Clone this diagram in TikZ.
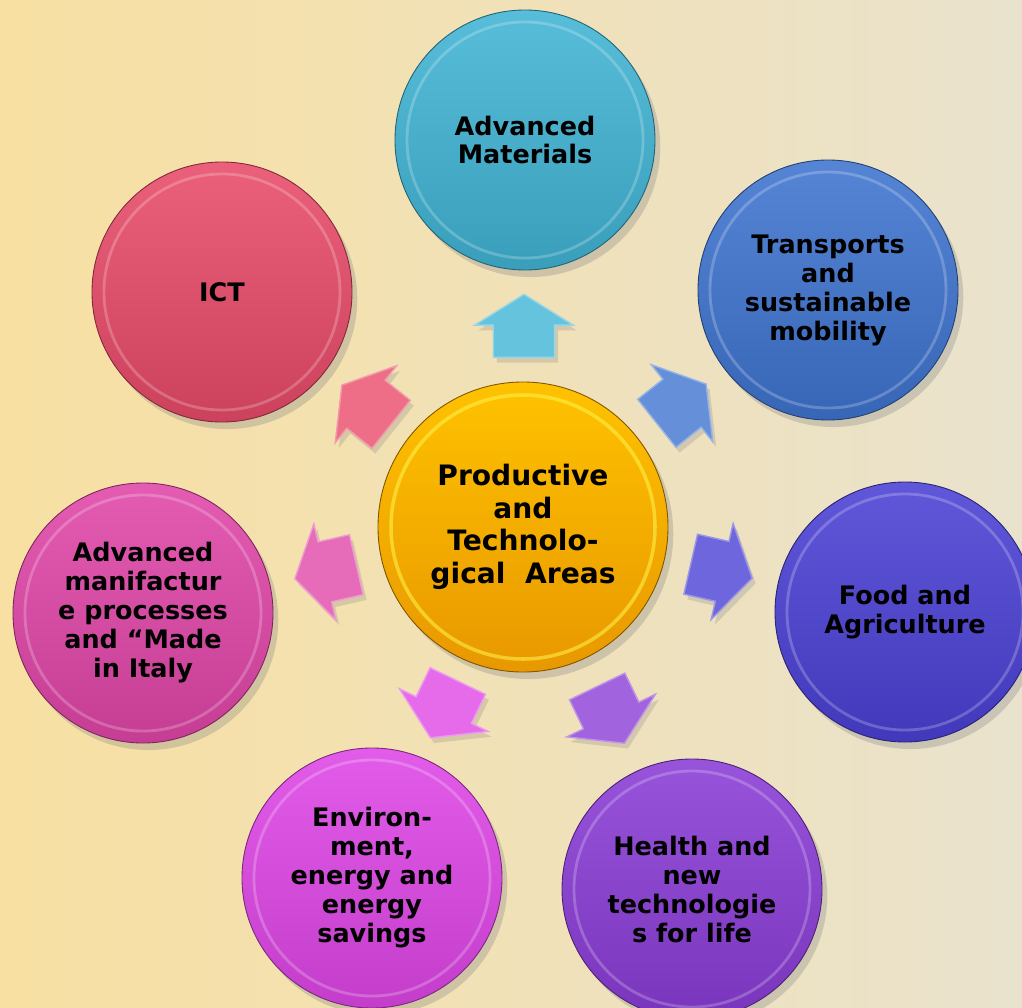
\documentclass[tikz,border=0pt]{standalone}
\usepackage{fontspec}
\setmainfont{DejaVu Sans}
\usetikzlibrary{positioning, calc, shapes.arrows, shadows}

\definecolor{bgleft}{HTML}{F8E0A2}
\definecolor{bgmid}{HTML}{F2E8C8}
\definecolor{bgright}{HTML}{E9E2CD}
\definecolor{hubtop}{HTML}{FFC200}
\definecolor{hubbot}{HTML}{E89800}
\definecolor{matcol}{HTML}{40B4D4}
\definecolor{trcol}{HTML}{3F74D0}
\definecolor{foodcol}{HTML}{4A40D4}
\definecolor{healthcol}{HTML}{8A3CD6}
\definecolor{envcol}{HTML}{DE46E6}
\definecolor{mancol}{HTML}{E046A8}
\definecolor{ictcol}{HTML}{E84A68}

\begin{document}
\begin{tikzpicture}
        \tikzset{area/.style={circle, minimum size=5.2cm, inner sep=0pt, align=center,
            top color=#1!88!white, bottom color=#1!88!black, draw=#1!55!black, line width=0.5pt,
            font=\bfseries\fontsize{14.5}{16.5}\selectfont,
            drop shadow={shadow xshift=3pt, shadow yshift=-4pt, opacity=0.3},
            path picture={\draw[white, opacity=0.22, line width=1.6pt] (path picture bounding box.center) circle (2.36cm);}}}
        \tikzset{hub/.style={circle, minimum size=5.8cm, inner sep=0pt, align=center,
            top color=hubtop, bottom color=hubbot, draw=hubbot!55!black, line width=0.5pt,
            font=\bfseries\fontsize{16}{18.5}\selectfont,
            drop shadow={shadow xshift=3pt, shadow yshift=-4pt, opacity=0.3},
            path picture={\draw[yellow!70!white, opacity=0.55, line width=2pt] (path picture bounding box.center) circle (2.64cm);}}}
        \tikzset{pointer/.style={single arrow, minimum height=1.26cm, inner xsep=0pt, inner ysep=0.6cm,
            single arrow head extend=0.37cm, single arrow tip angle=116,
            fill=#1!80!white, draw=#1!55!white, line width=0.8pt,
            drop shadow={shadow xshift=2pt, shadow yshift=-3pt, opacity=0.25}}}

        \useasboundingbox (-10.46,-9.6) rectangle (9.98,10.54);
        \clip (-10.46,-9.6) rectangle (9.98,10.54);
        \shade[left color=bgleft, middle color=bgmid, right color=bgright] (-10.46,-9.6) rectangle (9.98,10.54);

        \node (hub) [hub] at (0,0) {Productive\\and\\Technolo-\\gical\ \ Areas};

        \node (mat) [area=matcol] at (0.04,7.74) {Advanced\\Materials};
        \node (trans) [area=trcol] at (6.1,4.74) {Transports\\and\\sustainable\\mobility};
        \node (food) [area=foodcol] at (7.64,-1.7) {Food and\\Agriculture};
        \node (health) [area=healthcol] at (3.38,-7.24) {Health and\\new\\technologie\\s for life};
        \node (env) [area=envcol] at (-3.02,-7.02) {Environ-\\ment,\\energy and\\energy\\savings};
        \node (manuf) [area=mancol] at (-7.6,-1.72) {Advanced\\manifactur\\e processes\\and “Made\\in Italy};
        \node (ict) [area=ictcol] at (-6.02,4.7) {ICT};

        \node (p1) [pointer=matcol, rotate=90] at ($(hub)!0.495!(mat)$) {};
        \node (p2) [pointer=trcol, rotate=38.57] at ($(hub)!0.495!(trans)$) {};
        \node (p3) [pointer=foodcol, rotate=-12.86] at ($(hub)!0.495!(food)$) {};
        \node (p4) [pointer=healthcol, rotate=-64.29] at ($(hub)!0.495!(health)$) {};
        \node (p5) [pointer=envcol, rotate=-115.71] at ($(hub)!0.495!(env)$) {};
        \node (p6) [pointer=mancol, rotate=-167.14] at ($(hub)!0.495!(manuf)$) {};
        \node (p7) [pointer=ictcol, rotate=141.43] at ($(hub)!0.495!(ict)$) {};
    \end{tikzpicture}
\end{document}
